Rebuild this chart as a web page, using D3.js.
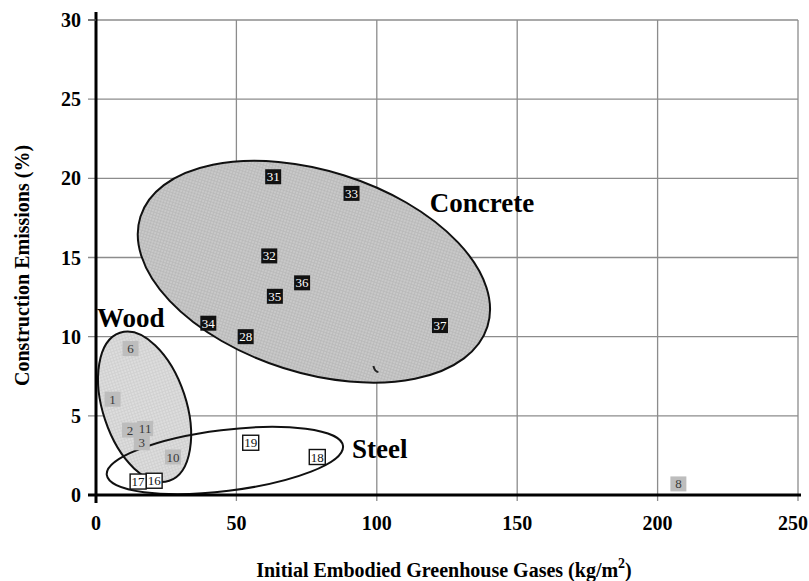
<!DOCTYPE html>
<html>
<head>
<meta charset="utf-8">
<script src="https://cdn.jsdelivr.net/npm/d3@7"></script>
<style>
  html, body { margin: 0; padding: 0; background: #fff; }
  svg { display: block; }
</style>
</head>
<body>
<svg id="chart" width="809" height="581"></svg>
<script>
// Building case studies: initial embodied greenhouse gases vs. share of construction emissions
const woodIds = ["1", "2", "3", "6", "10", "11", "8"];
const woodX = [5.9, 12.1, 16.3, 12.3, 27.4, 17.5, 207.4];
const woodY = [6.05, 4.1, 3.3, 9.25, 2.4, 4.2, 0.7];

const steelIds = ["16", "17", "18", "19"];
const steelX = [20.7, 15.0, 78.8, 55.1];
const steelY = [0.9, 0.85, 2.4, 3.3];

const concreteIds = ["28", "31", "32", "33", "34", "35", "36", "37"];
const concreteX = [53.3, 63.1, 61.7, 91.0, 40.0, 63.7, 73.4, 122.5];
const concreteY = [10.0, 20.1, 15.1, 19.05, 10.85, 12.55, 13.4, 10.7];

const xTicks = [0, 50, 100, 150, 200, 250];
const yTicks = [0, 5, 10, 15, 20, 25, 30];

// Material groups: name, label anchor and group outline centre (data units)
const groupNames = ["Concrete", "Wood", "Steel"];
const groupLabelX = [118.9, 0.4, 91.2];
const groupLabelY = [17.85, 10.6, 2.34];
const groupCenterX = [77.6, 17.3, 45.9];
const groupCenterY = [14.1, 5.57, 2.18];

const svg = d3.select("#chart");
const W = 809, H = 581;
const margin = { top: 20, right: 11, bottom: 86, left: 96 };

const x = d3.scaleLinear().domain([0, 250]).range([margin.left, W - margin.right]);
const y = d3.scaleLinear().domain([0, 30]).range([H - margin.bottom, margin.top]);

const serif = "'Liberation Serif', 'Times New Roman', serif";

// Fine hatch textures for group fills
const defs = svg.append("defs");
function hatch(id, base, line) {
  const p = defs.append("pattern").attr("id", id).attr("patternUnits", "userSpaceOnUse")
    .attr("width", 3).attr("height", 3);
  p.append("rect").attr("width", 3).attr("height", 3).attr("fill", base);
  p.append("path").attr("d", "M0,0.5H3M0.5,0V3").attr("stroke", line).attr("stroke-width", 0.6);
}
hatch("hatchConcrete", "#c9c9c9", "#b4b4b4");
hatch("hatchWood", "#dddddd", "#cbcbcb");

// Grid lines (top and right ones form the frame)
const grid = svg.append("g").attr("stroke", "#8c8c8c").attr("stroke-width", 1.3);
grid.selectAll("line.h").data(yTicks.filter(d => d > 0)).join("line")
  .attr("class", "h")
  .attr("x1", x(0) - 8).attr("x2", x(250))
  .attr("y1", d => y(d)).attr("y2", d => y(d));
grid.selectAll("line.v").data(xTicks.filter(d => d > 0)).join("line")
  .attr("class", "v")
  .attr("x1", d => x(d)).attr("x2", d => x(d))
  .attr("y1", y(30)).attr("y2", y(0) + 6);

// Group outlines
const outlineRx = [182, 41.6, 119];
const outlineRy = [101, 78, 30.5];
const outlineRot = [17.6, -18.4, -7];
const outlineFill = ["url(#hatchConcrete)", "url(#hatchWood)", "none"];

const outlines = svg.append("g");
groupNames.forEach((g, i) => {
  const cx = x(groupCenterX[i]), cy = y(groupCenterY[i]);
  outlines.append("ellipse")
    .attr("cx", 0).attr("cy", 0)
    .attr("rx", outlineRx[i]).attr("ry", outlineRy[i])
    .attr("transform", `translate(${cx},${cy}) rotate(${outlineRot[i]})`)
    .attr("fill", outlineFill[i])
    .attr("stroke", "#111").attr("stroke-width", 2);
});

// small stray pen stroke inside the concrete group
svg.append("path")
  .attr("transform", `translate(${x(99.5)},${y(7.9)})`)
  .attr("d", "M-2,-4 C-1,0 0,2 3,2")
  .attr("fill", "none").attr("stroke", "#222").attr("stroke-width", 2);

// Axes lines
svg.append("line")
  .attr("x1", x(0)).attr("x2", x(0))
  .attr("y1", y(30) - 8).attr("y2", y(0) + 8)
  .attr("stroke", "#000").attr("stroke-width", 3);
svg.append("line")
  .attr("x1", x(0) - 8).attr("x2", x(250) + 3)
  .attr("y1", y(0)).attr("y2", y(0))
  .attr("stroke", "#000").attr("stroke-width", 3);
svg.append("line")
  .attr("x1", x(0) - 8).attr("x2", x(0))
  .attr("y1", y(30)).attr("y2", y(30))
  .attr("stroke", "#555").attr("stroke-width", 1.3);

// Tick labels
svg.append("g").selectAll("text").data(yTicks).join("text")
  .attr("x", x(0) - 15).attr("y", d => y(d))
  .attr("dy", "0.35em")
  .attr("text-anchor", "end")
  .attr("font-family", serif).attr("font-weight", "bold").attr("font-size", 20)
  .text(d => d);
const lastX = xTicks[xTicks.length - 1];
svg.append("g").selectAll("text").data(xTicks).join("text")
  .attr("x", d => d === lastX ? W - 1 : x(d)).attr("y", y(0) + 35)
  .attr("text-anchor", d => d === lastX ? "end" : "middle")
  .attr("font-family", serif).attr("font-weight", "bold").attr("font-size", 20)
  .text(d => d);

// Axis titles
svg.append("text")
  .attr("transform", `translate(29,${(y(0) + y(30)) / 2 + 8}) rotate(-90)`)
  .attr("text-anchor", "middle")
  .attr("font-family", serif).attr("font-weight", "bold").attr("font-size", 20)
  .text("Construction Emissions (%)");
const xt = svg.append("text")
  .attr("x", (x(0) + x(250)) / 2 - 3).attr("y", 577)
  .attr("text-anchor", "middle")
  .attr("font-family", serif).attr("font-weight", "bold").attr("font-size", 20);
xt.append("tspan").text("Initial Embodied Greenhouse Gases (kg/m");
xt.append("tspan").attr("dy", -9).attr("font-size", 14).text("2");
xt.append("tspan").attr("dy", 9).text(")");

// Group labels
svg.append("g").selectAll("text").data(groupNames).join("text")
  .attr("x", (d, i) => x(groupLabelX[i])).attr("y", (d, i) => y(groupLabelY[i]))
  .attr("font-family", serif).attr("font-weight", "bold").attr("font-size", 27)
  .text(d => d);

// Building markers
const bw = 16, bh = 15;
function markers(ids, xs, ys, style) {
  const g = svg.append("g");
  ids.forEach((id, i) => {
    const cx = x(xs[i]), cy = y(ys[i]);
    g.append("rect")
      .attr("x", cx - bw / 2).attr("y", cy - bh / 2)
      .attr("width", bw).attr("height", bh)
      .attr("fill", style.fill)
      .attr("stroke", style.stroke).attr("stroke-width", style.sw);
    g.append("text")
      .attr("x", cx).attr("y", cy).attr("dy", "0.35em")
      .attr("text-anchor", "middle")
      .attr("font-family", serif).attr("font-size", 13)
      .attr("fill", style.text)
      .text(id);
  });
}
markers(woodIds, woodX, woodY, { fill: "#bdbdbd", stroke: "none", sw: 0, text: "#3a3a3a" });
markers(steelIds, steelX, steelY, { fill: "#fff", stroke: "#111", sw: 1.4, text: "#111" });
markers(concreteIds, concreteX, concreteY, { fill: "#111", stroke: "none", sw: 0, text: "#fff" });
</script>
</body>
</html>
